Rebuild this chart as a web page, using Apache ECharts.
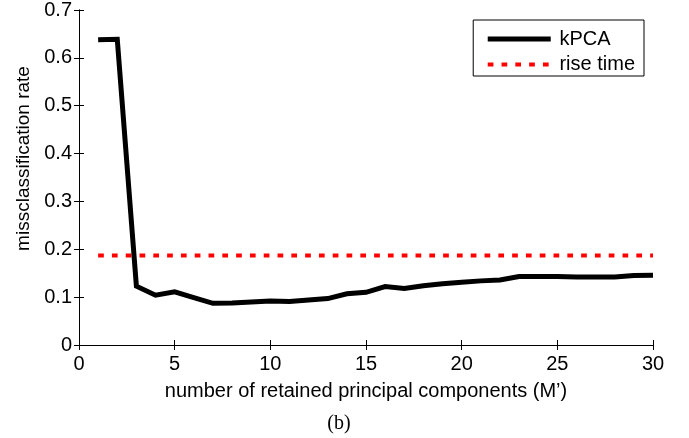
<!DOCTYPE html>
<html><head><meta charset="utf-8">
<script src="https://cdn.jsdelivr.net/npm/echarts@6/dist/echarts.min.js"></script>
<style>html,body{margin:0;padding:0;background:#fff}#c{width:689px;height:438px}</style>
</head><body><div id="c"></div>
<script>
var components = [1,2,3,4,5,6,7,8,9,10,11,12,13,14,15,16,17,18,19,20,21,22,23,24,25,26,27,28,29,30];
var kpcaRate = [0.638,0.639,0.123,0.104,0.111,0.099,0.087,0.088,0.090,0.092,0.091,0.094,0.097,0.107,0.110,0.122,0.118,0.124,0.128,0.131,0.134,0.136,0.143,0.143,0.143,0.142,0.142,0.142,0.145,0.146];
var riseTimeX = [1, 30];
var riseTimeY = [0.187, 0.187];
var xTicks = [0,5,10,15,20,25,30];
var yTicks = [0,0.1,0.2,0.3,0.4,0.5,0.6,0.7];

var FONT = 'Liberation Sans, Arial, sans-serif';
var grid = {left:79, right:36, top:10, bottom:93};
var chart = echarts.init(document.getElementById('c'), null, {renderer:'canvas'});
function pairs(xs, ys){ return xs.map(function(x,i){return [x, ys[i]];}); }
var axisCommon = {
  axisLine:{show:true, lineStyle:{color:'#000', width:1}},
  axisTick:{show:true, inside:true, length:5, lineStyle:{color:'#000'}},
  splitLine:{show:false}
};
chart.setOption({
  animation:false,
  backgroundColor:'#fff',
  grid:grid,
  xAxis:[
    Object.assign({type:'value', min:xTicks[0], max:xTicks[xTicks.length-1], interval:5, position:'bottom',
      name:'number of retained principal components (M’)', nameLocation:'middle', nameGap:36,
      nameTextStyle:{fontFamily:FONT, fontSize:20, color:'#000'},
      axisLabel:{fontFamily:FONT, fontSize:20, color:'#000', margin:9}}, axisCommon),
    Object.assign({type:'value', min:xTicks[0], max:xTicks[xTicks.length-1], interval:5, position:'top', axisLabel:{show:false}}, axisCommon)
  ],
  yAxis:[
    Object.assign({type:'value', min:yTicks[0], max:yTicks[yTicks.length-1], interval:0.1, position:'left',
      name:'missclassification rate', nameLocation:'middle', nameGap:41,
      nameTextStyle:{fontFamily:FONT, fontSize:19, color:'#000', padding:[0,0,0,38]},
      axisLabel:{fontFamily:FONT, fontSize:20, color:'#000', margin:7,
        formatter:function(v){return String(Math.round(v*10)/10);}}}, axisCommon),
    Object.assign({type:'value', min:yTicks[0], max:yTicks[yTicks.length-1], interval:0.1, position:'right', axisLabel:{show:false}}, axisCommon)
  ],
  legend:{
    right:45, top:20, orient:'vertical', padding:[9,9,1.5,12],
    borderColor:'#000', borderWidth:1, backgroundColor:'#fff',
    itemWidth:63, itemHeight:14, itemGap:5.5,
    itemStyle:{opacity:0},
    lineStyle:{width:'inherit', type:'inherit', color:'inherit'},
    textStyle:{fontFamily:FONT, fontSize:20, color:'#000', padding:[0,0,0,3.7]},
    data:[{name:'kPCA'},{name:'rise time'}]
  },
  series:[
    {name:'rise time', type:'line', symbol:'none', data:pairs(riseTimeX, riseTimeY),
      lineStyle:{color:'#ff0000', width:4, type:[5.7,8.1], cap:'butt'}, itemStyle:{color:'#ff0000'}, z:2},
    {name:'kPCA', type:'line', symbol:'none', data:pairs(components, kpcaRate),
      lineStyle:{color:'#000', width:5, join:'miter'}, itemStyle:{color:'#000'}, z:3}
  ],
  graphic:[{type:'text', x:339, y:414, style:{text:'(b)', align:'center', verticalAlign:'top', font:'20px "Liberation Serif", "Times New Roman", serif', fill:'#000'}}]
});
</script></body></html>
